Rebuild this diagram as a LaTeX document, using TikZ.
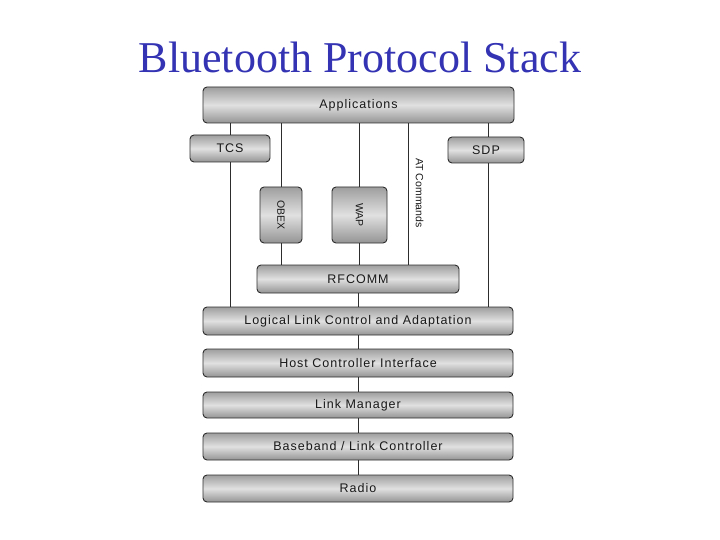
\documentclass[tikz,border=0pt]{standalone}
\usepackage{fontspec}
\setmainfont{Liberation Serif}
\newfontfamily\boxfont[LetterSpace=8]{Liberation Sans}
\newfontfamily\rotfont{Liberation Sans}
\definecolor{titleblue}{RGB}{51,51,180}
\definecolor{boxline}{RGB}{45,45,45}
\tikzset{
  stackbox/.style={draw=boxline, line width=0.9pt, rounded corners=4pt,
    top color=black!38, bottom color=black!42, middle color=black!12,
    inner sep=0pt, text=black!90,
    font=\boxfont\fontsize{12.5}{14}\selectfont},
  rotbox/.style={stackbox},
  rottext/.style={rotate=-90, font=\rotfont\fontsize{10.5}{12}\selectfont, text=black!90},
  conn/.style={draw=boxline, line width=0.8pt}
}
\begin{document}
\begin{tikzpicture}[x=1pt,y=-1pt]
\useasboundingbox (0,0) rectangle (720,540);
\node[font=\fontsize{44}{50}\selectfont, text=titleblue, anchor=base] (title) at (360,73) {Bluetooth Protocol Stack};
% boxes
\node[stackbox, minimum width=311pt, minimum height=36pt] (app) at (358.5,105) {Applications};
\node[stackbox, minimum width=80pt, minimum height=27pt] (tcs) at (230,148.5) {TCS};
\node[stackbox, minimum width=76pt, minimum height=26pt] (sdp) at (486,150) {SDP};
\node[rotbox, minimum width=42pt, minimum height=56pt] (obex) at (281,215) {};
\node[rottext] (obext) at (obex.center) {OBEX};
\node[rotbox, minimum width=55pt, minimum height=56pt] (wap) at (359.5,215) {};
\node[rottext] (wapt) at (wap.center) {WAP};
\node[stackbox, minimum width=202pt, minimum height=28pt] (rfcomm) at (358,279) {RFCOMM};
\node[stackbox, minimum width=310pt, minimum height=28pt] (l2cap) at (358,321) {Logical Link Control and Adaptation};
\node[stackbox, minimum width=310pt, minimum height=28pt] (hci) at (358,363) {Host Controller Interface};
\node[stackbox, minimum width=310pt, minimum height=26pt] (lm) at (358,405) {Link Manager};
\node[stackbox, minimum width=310pt, minimum height=27pt] (bb) at (358,446.5) {Baseband / Link Controller};
\node[stackbox, minimum width=310pt, minimum height=27pt] (radio) at (358,488.5) {Radio};
% AT commands line
\coordinate (atx) at (408,200);
\node[rottext] (attext) at (419.5,193) {AT Commands};
% connectors
\draw[conn] (tcs.north) -- (tcs.north |- app.south);
\draw[conn] (tcs.south) -- (tcs.south |- l2cap.north);
\draw[conn] (obex.north) -- (obex.north |- app.south);
\draw[conn] (obex.south) -- (obex.south |- rfcomm.north);
\draw[conn] (wap.north) -- (wap.north |- app.south);
\draw[conn] (wap.south) -- (wap.south |- rfcomm.north);
\draw[conn] (rfcomm.north -| atx) -- (app.south -| atx);
\draw[conn] ([xshift=2pt]sdp.north) -- ([xshift=2pt]sdp.north |- app.south);
\draw[conn] ([xshift=2pt]sdp.south) -- ([xshift=2pt]sdp.south |- l2cap.north);
\draw[conn] (rfcomm.south) -- (rfcomm.south |- l2cap.north);
\draw[conn] (l2cap) -- (hci);
\draw[conn] (hci) -- (lm);
\draw[conn] (lm) -- (bb);
\draw[conn] (bb) -- (radio);
\end{tikzpicture}
\end{document}
